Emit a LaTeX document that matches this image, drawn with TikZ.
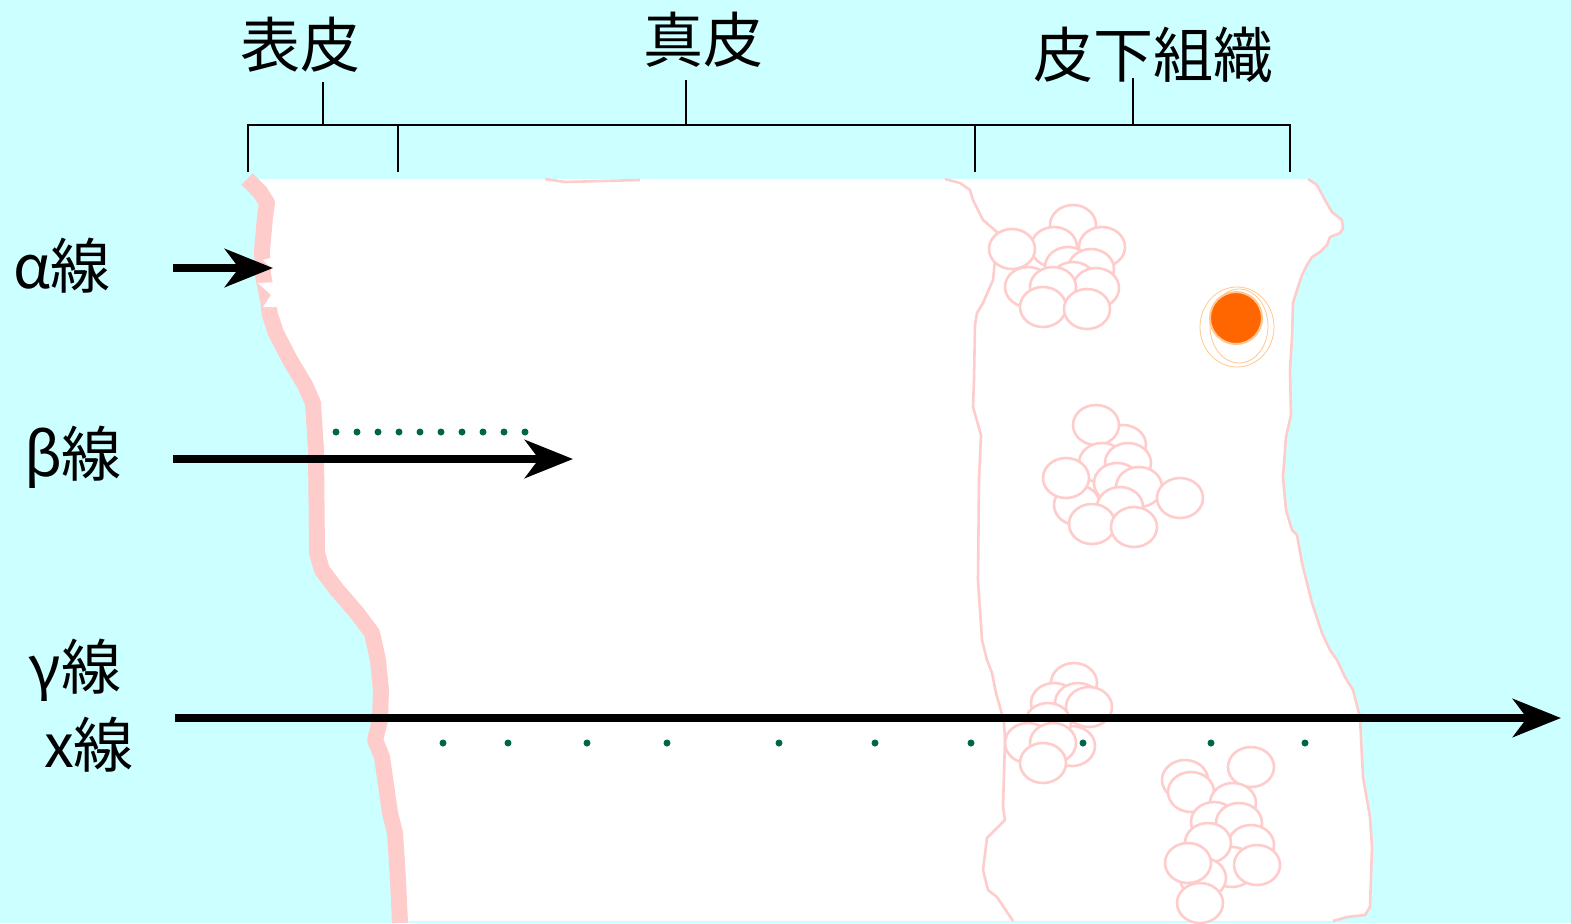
\documentclass[tikz,border=0pt]{standalone}
\usepackage{fontspec}
\setmainfont{Noto Sans CJK JP}
\usepackage{xcolor}
\usepackage{tikz}
\usetikzlibrary{arrows.meta}
\definecolor{sky}{HTML}{CCFFFF}
\definecolor{skin}{HTML}{FFCCCC}
\definecolor{fat}{HTML}{FF6600}
\definecolor{fatring}{HTML}{FFC890}
\definecolor{ion}{HTML}{006648}
\tikzset{
  epiline/.style={draw=skin, line width=8pt, line join=round},
  vein/.style={draw=skin, line width=1.3pt, line join=round},
  cell/.style={draw=skin, fill=white, line width=1.3pt},
  ray/.style={line width=4pt, -{Stealth[length=24pt,width=19pt,inset=7pt]}},
  brace/.style={draw=black, line width=1pt},
  lab/.style={font=\fontsize{30}{36}\selectfont, inner sep=0pt},
}
\def\epi{(247,179) -- (260,192) -- (267,203) -- (265,217) -- (262,250) -- (263,275)
  -- (268,300) -- (270,315) -- (276,333) -- (290,360) -- (305,385) -- (313,403)
  -- (316,450) -- (317,553) -- (322,570) -- (337,590) -- (357,613) -- (372,633)
  -- (378,660) -- (381,690) -- (380,720) -- (375,740) -- (382,757) -- (390,813)
  -- (395,833) -- (398,880) -- (400,923)}
\def\rim{(1308,179) -- (1317,185) -- (1325,200) -- (1332,212) -- (1342,220) -- (1343,228)
  -- (1340,233) -- (1330,237) -- (1327,245) -- (1320,252) -- (1312,257) -- (1307,265)
  -- (1302,275) -- (1297,290) -- (1293,303) -- (1292,337) -- (1290,370) -- (1291,415)
  -- (1286,437) -- (1283,477) -- (1286,510) -- (1292,530) -- (1297,535) -- (1302,563)
  -- (1312,603) -- (1322,633) -- (1330,650) -- (1337,660) -- (1345,677) -- (1353,690)
  -- (1360,717) -- (1363,777) -- (1370,817) -- (1372,847) -- (1370,907) -- (1365,915)
  -- (1347,917) -- (1333,921)}

\begin{document}
\begin{tikzpicture}[x=0.5pt,y=-0.5pt]
  \fill[sky] (0,0) rectangle (1571,923);
  \useasboundingbox (0,0) rectangle (1571,923);
  % skin block
  \fill[white] \epi -- (1400,923) -- (1400,179) -- cycle;
  \fill[sky] \rim -- (1571,921) -- (1571,179) -- cycle;
  \fill[sky] (0,921) rectangle (1571,923);
  \draw[vein] \rim;
  \draw[vein] (545,179) -- (565,182) -- (640,180);
  \draw[vein] (945,179) -- (960,183) -- (970,190) -- (973,200) -- (983,220) -- (997,232)
    -- (995,260) -- (993,280) -- (983,303) -- (977,313) -- (975,325) -- (974,380)
    -- (973,407) -- (981,435) -- (979,480) -- (978,580) -- (982,640) -- (987,660)
    -- (992,673) -- (996,693) -- (1000,707) -- (1004,723) -- (1005,740) -- (1003,807)
    -- (1005,820) -- (987,838) -- (983,870) -- (988,890) -- (997,897) -- (1013,921);
  \draw[epiline] \epi;
  \fill[white] (274,257) -- (263,260) -- (274,271) -- cycle;
  \fill[white] (279,282) -- (258,283) -- (271,295) -- (263,307) -- (279,307) -- cycle;

  % fat cells
  \foreach \x/\y in {1073/225,1054/247,1102/247,1012/249,1068/267,1091/269,1073/282,
      1028/287,1096/288,1053/287,1043/307,1087/309,
      1123/445,1096/425,1102/463,1128/463,1077/505,1066/478,1117/483,1139/487,
      1180/498,1120/507,1092/524,1134/527,
      1074/683,1054/703,1078/703,1089/707,1072/746,1048/723,1028/743,1053/743,1043/763,
      1185/780,1191/792,1251/767,1233/803,1214/822,1239/823,1251/845,1232/867,
      1208/843,1203/878,1188/863,1257/865,1200/903}
    \draw[cell] (\x,\y) ellipse [x radius=23, y radius=20];
  \draw[fatring] (1237,327) ellipse [x radius=37, y radius=40];
  \draw[fatring] (1239,326) ellipse [x radius=29, y radius=37];
  \filldraw[fill=fat, draw=fatring, line width=1pt] (1236,318) circle (26);

  % layers
  \coordinate (epiL) at (248,125);
  \coordinate (epiR) at (398,125);
  \coordinate (derR) at (975,125);
  \coordinate (subR) at (1290,125);
  \draw[brace] (epiL) ++(0,47) -- (epiL) -- (subR) -- ++(0,47);
  \draw[brace] (epiR) -- ++(0,47);
  \draw[brace] (derR) -- ++(0,47);
  \draw[brace] (323,125) -- (323,82);
  \draw[brace] (686,125) -- (686,80);
  \draw[brace] (1133,125) -- (1133,78);
  \node[lab] (epi) at (300,45) {表皮};
  \node[lab] (derm) at (703,40) {真皮};
  \node[lab] (subc) at (1153,55) {皮下組織};

  % radiation
  \node[lab] (alpha) at (62,266) {α線};
  \node[lab] (beta) at (73,457) {β線};
  \node[lab] (gamma) at (75,670) {γ線};
  \node[lab] (xray) at (89,745) {x線};
  \coordinate (aFrom) at (173,268);
  \coordinate (aTo) at (273,268);
  \coordinate (bFrom) at (173,459);
  \coordinate (bTo) at (573,459);
  \coordinate (gFrom) at (175,718);
  \coordinate (gTo) at (1561,718);
  \foreach \i in {0,...,9}
    \fill[ion] ({336+21*\i},432) circle (3.5);
  \foreach \x in {443,508,587,667,779,875,971,1083,1211,1305}
    \fill[ion] (\x,743) circle (3.5);
  \draw[ray] (aFrom) -- (aTo);
  \draw[ray] (bFrom) -- (bTo);
  \draw[ray] (gFrom) -- (gTo);
\end{tikzpicture}
\end{document}
